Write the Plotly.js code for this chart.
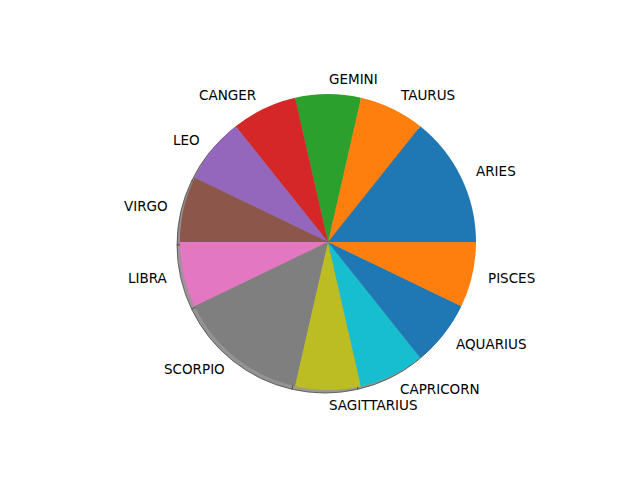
<!DOCTYPE html>
<html>
<head>
<meta charset="utf-8">
<script src="https://cdn.plot.ly/plotly-3.0.1.min.js"></script>
<style>html,body{margin:0;padding:0;background:#fff}#chart{width:640px;height:480px}</style>
</head>
<body>
<div id="chart"></div>
<script>
const labels = ['ARIES','TAURUS','GEMINI','CANGER','LEO','VIRGO','LIBRA','SCORPIO','SAGITTARIUS','CAPRICORN','AQUARIUS','PISCES'];
const values = [2,1,1,1,1,1,1,2,1,1,1,1];
const colors = ['#1f77b4','#ff7f0e','#2ca02c','#d62728','#9467bd','#8c564b','#e377c2','#7f7f7f','#bcbd22','#17becf','#1f77b4','#ff7f0e'];

function shadowOf(hex){
  const r=parseInt(hex.slice(1,3),16),g=parseInt(hex.slice(3,5),16),b=parseInt(hex.slice(5,7),16);
  const f=v=>Math.round((0.3*v+255)/2);
  return 'rgb('+f(r)+','+f(g)+','+f(b)+')';
}

const W=640,H=480,cx=328,cy=242,R=148,off=3;
const dom=(x,y)=>({x:[(x-R)/W,(x+R)/W],y:[1-(y+R)/H,1-(y-R)/H]});
const total=values.reduce((a,b)=>a+b,0);
const rot=90-360*values[0]/total;

const shadow={type:'pie',labels:labels,values:values,sort:false,direction:'counterclockwise',rotation:rot,
  domain:dom(cx-off,cy+off),marker:{colors:colors.map(shadowOf),line:{color:'rgba(60,60,60,0.7)',width:1}},
  textinfo:'none',hoverinfo:'skip',showlegend:false};
const pie={type:'pie',labels:labels,values:values,sort:false,direction:'counterclockwise',rotation:rot,
  domain:dom(cx,cy),marker:{colors:colors,line:{width:0}},
  textinfo:'none',showlegend:false};

// matplotlib-style labels at 1.1 R at each wedge's mid-angle
const annotations=[];
let acc=0;
labels.forEach((lab,i)=>{
  const mid=(acc+values[i]/2)/total*2*Math.PI; acc+=values[i];
  const x=cx+1.1*R*Math.cos(mid), y=cy-1.1*R*Math.sin(mid);
  annotations.push({xref:'paper',yref:'paper',x:x/W,y:1-y/H,text:lab,showarrow:false,
    xanchor:Math.cos(mid)>-1e-9?'left':'right',yanchor:'middle',
    font:{family:'DejaVu Sans',size:13.5,color:'#000'},borderpad:0});
});

Plotly.newPlot('chart',[shadow,pie],{width:W,height:H,margin:{l:0,r:0,t:0,b:0},
  paper_bgcolor:'#fff',font:{family:'DejaVu Sans',size:13.5,color:'#000'},showlegend:false,annotations:annotations},{staticPlot:true});
</script>
</body>
</html>
